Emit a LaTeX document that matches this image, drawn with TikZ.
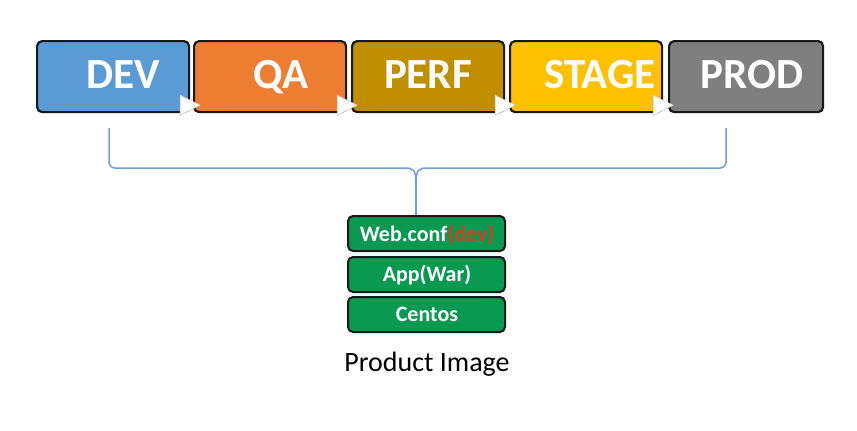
\documentclass[tikz,border=0pt]{standalone}
\usepackage{fontspec}
\setmainfont{Carlito}
\begin{document}
\begin{tikzpicture}[x=1pt,y=-1pt,
  envbox/.style={draw=black!90,line width=2.2pt,rounded corners=5pt,minimum width=152pt,minimum height=71pt,inner sep=0pt,anchor=north west},
  envtext/.style={text=white,font=\bfseries\fontsize{43}{43}\selectfont,anchor=base,inner sep=0pt},
  layer/.style={draw=black!90,line width=2pt,rounded corners=5pt,fill=imggreen,minimum width=157pt,minimum height=35pt,inner sep=0pt,anchor=north west},
  layertext/.style={text=white,font=\bfseries\fontsize{22}{22}\selectfont,anchor=base,inner sep=0pt},
  tri/.style={fill=white,draw=gray!40,line width=0.6pt,line join=round},
  brace/.style={draw=bracecol,line width=1.5pt,rounded corners=6pt}]
\definecolor{devc}{HTML}{5B9BD5}
\definecolor{qac}{HTML}{ED7D31}
\definecolor{perfc}{HTML}{BF8F00}
\definecolor{stagec}{HTML}{FFC000}
\definecolor{prodc}{HTML}{7F7F7F}
\definecolor{imggreen}{HTML}{0A9950}
\definecolor{bracecol}{HTML}{6F9FD8}
\definecolor{devred}{HTML}{E03A1E}
\useasboundingbox (0,0) rectangle (857,431);
\fill[white] (0,0) rectangle (857,431);
% environment boxes
\node[envbox,fill=devc] (dev) at (36,40) {};
\node[envbox,fill=qac] (qa) at (193,40) {};
\node[envbox,fill=perfc] (perf) at (351,40) {};
\node[envbox,fill=stagec] (stage) at (509,40) {};
\node[envbox,fill=prodc,minimum width=154pt] (prod) at (668,40) {};
\node[envtext] (devt) at (123,88) {DEV};
\node[envtext] (qat) at (281,88) {QA};
\node[envtext] (perft) at (428,88) {PERF};
\node[envtext] (staget) at (600,88) {STAGE};
\node[envtext] (prodt) at (752,88) {PROD};
% arrow triangles between boxes
\foreach \b in {dev,qa,perf,stage}{
  \draw[tri] ([xshift=-10pt,yshift=18pt]\b.south east) -- ([xshift=10pt,yshift=8pt]\b.south east) -- ([xshift=-10pt,yshift=-2pt]\b.south east) -- cycle;
}
% image layers
\node[layer] (web) at (347,215) {};
\node[layer] (app) at (347,256) {};
\node[layer] (cent) at (347,296) {};
\node[layertext] (webt) at (427,241) {Web.conf\textcolor{devred}{(dev)}};
\node[layertext] (appt) at (427,281) {App(War)};
\node[layertext] (centt) at (427,321) {Centos};
\node[font=\fontsize{28}{28}\selectfont,anchor=base,inner sep=0pt] (label) at (427,371) {Product Image};
% brace
\coordinate (bl) at (109,128);
\coordinate (br) at (726,128);
\coordinate (tip) at (416,184);
\draw[brace] (bl) -- (109,168) -- (405,168);
\draw[brace] (br) -- (726,168) -- (427,168);
\draw[bracecol,line width=1.5pt] (404,168) .. controls (414,168) and (416,170) .. (tip);
\draw[bracecol,line width=1.5pt] (428,168) .. controls (418,168) and (416,170) .. (tip);
\draw[bracecol,line width=1.5pt] (tip) -- (tip |- web.north);
\end{tikzpicture}
\end{document}
